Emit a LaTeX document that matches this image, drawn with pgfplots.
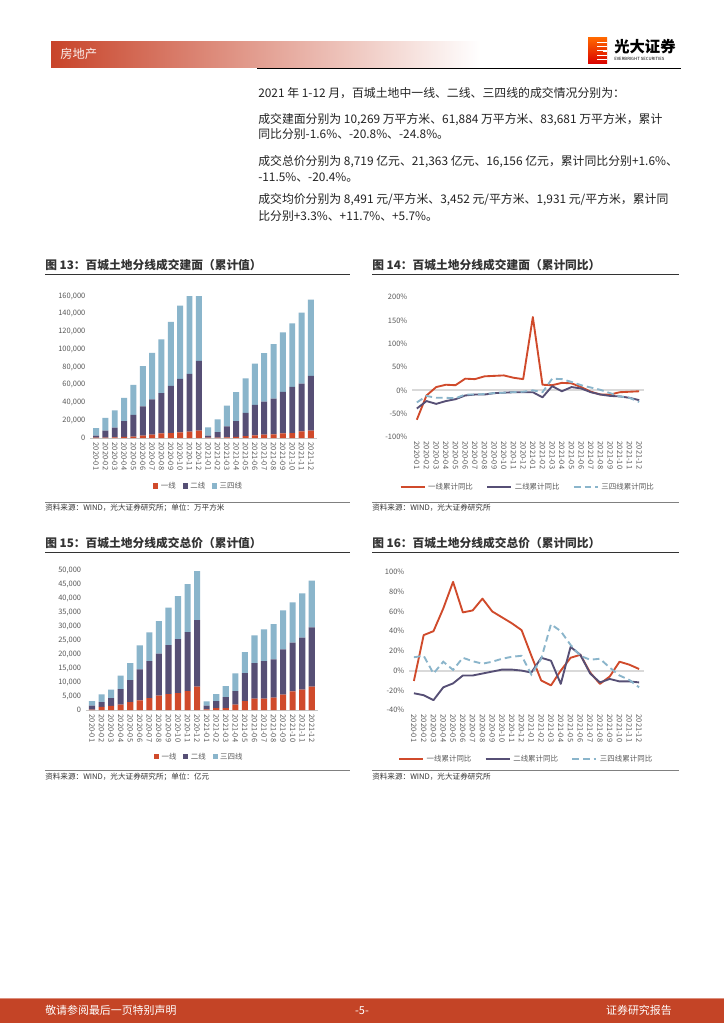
\documentclass[border=0pt]{standalone}
\usepackage{fontspec}
\setmainfont{Noto Sans CJK SC}
\usepackage{pgfplots}
\usepackage{pgfplotstable}
\pgfplotsset{compat=1.18}

\definecolor{cA}{HTML}{D04A2B}
\definecolor{cB}{HTML}{564F75}
\definecolor{cC}{HTML}{8AB5CB}
\definecolor{hdr}{HTML}{C8442A}
\definecolor{ftr}{HTML}{C44426}
\definecolor{tk}{HTML}{595959}
\definecolor{txt}{HTML}{222222}
\definecolor{ttl}{HTML}{333333}

% Fig 13: area (10k m2), stacked pieces
\pgfplotstableread{
i a b c
0 300 2300 8600
1 500 7700 14600
2 700 10900 19400
3 1200 17900 26100
4 1500 24700 33600
5 2600 32900 45600
6 3700 39700 52600
7 5200 45300 60500
8 5600 53100 72100
9 6400 60100 82600
10 7100 65100 107800
11 8200 78600 113200
12 300 2300 9400
13 500 6200 14200
14 600 12500 23500
15 1200 17900 32500
16 2000 26400 38900
17 3000 34400 46300
18 3700 37400 54600
19 4100 40400 61300
20 5200 46800 66900
21 5600 52000 71700
22 7500 53800 80000
23 8200 61700 86000
}\tabA

% Fig 14: area yoy %
\pgfplotstableread{
i a b c
0 -63 -39 -26
1 -11 -23 -12
2 7 -29 -16
3 12 -23 -16
4 11 -19 -17
5 25 -11 -9
6 24 -9 -9
7 30 -9 -8
8 31 -6 -6
9 32 -5 -5
10 27 -4 -4
11 24 -4 -3
12 157 -4 0
13 12 -15 -4
14 11 9 25
15 16 -2 24
16 15 7 18
17 7 4 11
18 -3 -4 6
19 -9 -9 1
20 -9 -12 -6
21 -4 -13 -13
22 -3 -16 -16
23 -2 -21 -25
}\tabB

% Fig 15: total price (100m yuan), stacked pieces
\pgfplotstableread{
i a b c
0 100 1450 1680
1 1080 1790 2750
2 1440 2860 3000
3 1910 5620 4770
4 2870 7890 6100
5 3470 11120 8610
6 4300 13280 10290
7 5140 15070 11720
8 5740 17580 13400
9 6100 19370 15430
10 6820 21170 17220
11 8370 23920 17580
12 200 1350 1560
13 720 2510 2510
14 720 3940 3950
15 1910 4910 6340
16 3230 10050 7530
17 4070 12790 9930
18 4070 13510 11360
19 4420 13760 12680
20 5500 16270 13990
21 6700 17460 14470
22 7300 18650 15910
23 8370 21290 16740
}\tabC

% Fig 16: total price yoy %
\pgfplotstableread{
i a b c
0 -10.5 -23 13.5
1 36 -25 15
2 40 -30 -3
3 63 -17 9
4 90 -13 0.7
5 59 -5 13
6 61 -5 9.5
7 73 -3 7
8 60 -1 9
9 54 1 12
10 48 1 14
11 41 0 15
12 15 -2 -4
13 -10 13 12
14 -15 10 47
15 0 -13.5 40
16 13 24 26
17 16 16 15
18 -2 -3 11
19 -13.5 -12 12
20 -6 -8.5 3
21 9 -11 -5
22 6 -11 -9.5
23 1.6 -12 -17
}\tabD

\pgfplotsset{
  base/.style={
    scale only axis, anchor=south west,
    axis line style={draw=none},
    major tick length=0pt,
    tick label style={font=\fontsize{5.6}{6.5}\selectfont, text=tk},
    /pgf/number format/assume math mode=true,
    /pgf/number format/fixed,
    /pgf/number format/1000 sep={,},
    scaled y ticks=false,
    xtick={0,...,23},
    xticklabels={2020-01,2020-02,2020-03,2020-04,2020-05,2020-06,2020-07,2020-08,2020-09,2020-10,2020-11,2020-12,2021-01,2021-02,2021-03,2021-04,2021-05,2021-06,2021-07,2021-08,2021-09,2021-10,2021-11,2021-12},
    x tick label style={rotate=-90, anchor=west},
    legend style={draw=none, fill=none, font=\fontsize{5.6}{6.5}\selectfont, text=tk, legend columns=3, anchor=center},
  },
}

\begin{document}
\begin{tikzpicture}
\begin{scope}[x=0.75pt, y=-0.75pt]
\useasboundingbox (0,0) rectangle (724,1024);
\fill[white] (0,0) rectangle (724,1024);
% header
\shade[left color=hdr, right color=white] (51,42) rectangle (480,68);
\node[anchor=base west, inner sep=0, text=white!92!hdr, font=\fontsize{9.2}{10}\selectfont] at (60,58.5) {房地产};
\draw[black, line width=1pt] (257,68.5) -- (681,68.5);
% logo
\shade[top color=orange!80!red, bottom color=red!85!black] (588,38) rectangle (607,64);
\foreach \yy in {42,46,50,55,59}{\fill[white] (597,\yy) rectangle (607,\yy+1.3);}
\fill[white] (603,50.5) rectangle (607,52.5);
\node[anchor=base west, inner sep=0, font=\bfseries\fontsize{11.5}{12}\selectfont] at (614,53) {光大证券};
\node[anchor=base west, inner sep=0, font=\fontsize{3.2}{4}\selectfont] at (614,61) {EVERBRIGHT SECURITIES};
% body text
\begin{scope}[every node/.style={anchor=base west, inner sep=0, text=txt, font=\fontsize{8.9}{10}\selectfont}]
\node at (258,97.7) {2021 年 1-12 月，百城土地中一线、二线、三四线的成交情况分别为：};
\node at (258,123.7) {成交建面分别为 10,269 万平方米、61,884 万平方米、83,681 万平方米，累计};
\node at (258,138.9) {同比分别-1.6\%、-20.8\%、-24.8\%。};
\node at (258,165.4) {成交总价分别为 8,719 亿元、21,363 亿元、16,156 亿元，累计同比分别+1.6\%、};
\node at (258,181.7) {-11.5\%、-20.4\%。};
\node at (258,203.7) {成交均价分别为 8,491 元/平方米、3,452 元/平方米、1,931 元/平方米，累计同};
\node at (258,220.4) {比分别+3.3\%、+11.7\%、+5.7\%。};
\end{scope}
% titles and sources
\begin{scope}[every node/.style={anchor=base west, inner sep=0, text=ttl}]
\node[font=\bfseries\fontsize{8.8}{10}\selectfont] at (45,269.5) {图 13：百城土地分线成交建面（累计值）};
\node[font=\bfseries\fontsize{8.8}{10}\selectfont] at (372,269.5) {图 14：百城土地分线成交建面（累计同比）};
\node[font=\bfseries\fontsize{8.8}{10}\selectfont] at (45,547.8) {图 15：百城土地分线成交总价（累计值）};
\node[font=\bfseries\fontsize{8.8}{10}\selectfont] at (372,547.8) {图 16：百城土地分线成交总价（累计同比）};
\node[font=\fontsize{5.7}{7}\selectfont] at (45,510.6) {资料来源：WIND，光大证券研究所；单位：万平方米};
\node[font=\fontsize{5.7}{7}\selectfont] at (372,510.6) {资料来源：WIND，光大证券研究所};
\node[font=\fontsize{5.7}{7}\selectfont] at (45,779.6) {资料来源：WIND，光大证券研究所；单位：亿元};
\node[font=\fontsize{5.7}{7}\selectfont] at (372,779.6) {资料来源：WIND，光大证券研究所};
\end{scope}
\draw[ttl, line width=0.8pt] (45,274.3) -- (350,274.3);
\draw[ttl, line width=0.8pt] (372,274.3) -- (679,274.3);
\draw[ttl, line width=0.8pt] (45,552.7) -- (350,552.7);
\draw[ttl, line width=0.8pt] (372,552.7) -- (679,552.7);
\draw[gray, line width=0.5pt] (45,502.3) -- (350,502.3);
\draw[gray, line width=0.5pt] (372,502.8) -- (679,502.8);
\draw[gray, line width=0.5pt] (45,770.7) -- (350,770.7);
\draw[gray, line width=0.5pt] (372,770.7) -- (679,770.7);
% footer
\fill[ftr] (0,998) rectangle (724,1023);
\draw[ftr!60!white, line width=0.6pt] (0,998) -- (724,998);
\begin{scope}[every node/.style={inner sep=0, text=white, font=\fontsize{8.2}{10}\selectfont}]
\node[anchor=base west] at (45,1014.5) {敬请参阅最后一页特别声明};
\node[anchor=base] at (362,1014.5) {-5-};
\node[anchor=base east] at (672,1014.5) {证券研究报告};
\end{scope}
\end{scope}

% ---------- Fig 13 ----------
\begin{axis}[base, at={(67.5pt,-328.5pt)}, width=170.25pt, height=106.5pt,
  ybar stacked, bar width=0.64,
  xmin=-0.65, xmax=23.65,
  ymin=0, ymax=160000, ytick={0,20000,...,160000},
  legend image code/.code={\fill[#1] (0pt,-1.9pt) rectangle (3.8pt,1.9pt);},
  legend style={at={(0.48,-0.338)}, /tikz/every even column/.append style={column sep=3pt}},
]
\addplot[fill=cA, draw=none] table[x=i,y=a]{\tabA};
\addplot[fill=cB, draw=none] table[x=i,y=b]{\tabA};
\addplot[fill=cC, draw=none] table[x=i,y=c]{\tabA};
\draw[gray!45, line width=0.6pt] (rel axis cs:0,0) -- (rel axis cs:1,0);
\legend{一线,二线,三四线}
\end{axis}

% ---------- Fig 14 ----------
\begin{axis}[base, at={(309pt,-327.75pt)}, width=174pt, height=105pt,
  xmin=-0.5, xmax=23.5,
  ymin=-100, ymax=200, ytick={-100,-50,...,200},
  yticklabel={\pgfmathprintnumber{\tick}\%},
  legend image code/.code={\draw[#1] (0pt,0pt) -- (18pt,0pt);},
  legend style={at={(0.5,-0.357)}, /tikz/every even column/.append style={column sep=8pt}},
]
\addplot[forget plot, gray!30, line width=1.5pt] coordinates {(-0.5,0) (23.5,0)};
\addplot[cA, line width=1.4pt, no markers, line join=round] table[x=i,y=a]{\tabB};
\addplot[cB, line width=1.4pt, no markers, line join=round] table[x=i,y=b]{\tabB};
\addplot[cC, line width=1.4pt, no markers, dash pattern=on 5pt off 3pt] table[x=i,y=c]{\tabB};
\legend{一线累计同比,二线累计同比,三四线累计同比}
\end{axis}

% ---------- Fig 15 ----------
\begin{axis}[base, at={(64.35pt,-532.5pt)}, width=174.15pt, height=104.5pt,
  ybar stacked, bar width=0.64,
  xmin=-0.65, xmax=23.65,
  ymin=0, ymax=50000, ytick={0,5000,...,50000},
  legend image code/.code={\fill[#1] (0pt,-1.9pt) rectangle (3.8pt,1.9pt);},
  legend style={at={(0.49,-0.337)}, /tikz/every even column/.append style={column sep=3pt}},
]
\addplot[fill=cA, draw=none] table[x=i,y=a]{\tabC};
\addplot[fill=cB, draw=none] table[x=i,y=b]{\tabC};
\addplot[fill=cC, draw=none] table[x=i,y=c]{\tabC};
\draw[gray!45, line width=0.6pt] (rel axis cs:0,0) -- (rel axis cs:1,0);
\legend{一线,二线,三四线}
\end{axis}

% ---------- Fig 16 ----------
\begin{axis}[base, at={(306.75pt,-532.5pt)}, width=176.25pt, height=103.5pt,
  xmin=-0.5, xmax=23.5,
  ymin=-40, ymax=100, ytick={-40,-20,...,100},
  yticklabel={\pgfmathprintnumber{\tick}\%},
  legend image code/.code={\draw[#1] (0pt,0pt) -- (18pt,0pt);},
  legend style={at={(0.5,-0.355)}, /tikz/every even column/.append style={column sep=8pt}},
]
\addplot[forget plot, gray!30, line width=1.5pt] coordinates {(-0.5,0) (23.5,0)};
\addplot[cA, line width=1.4pt, no markers, line join=round] table[x=i,y=a]{\tabD};
\addplot[cB, line width=1.4pt, no markers, line join=round] table[x=i,y=b]{\tabD};
\addplot[cC, line width=1.4pt, no markers, dash pattern=on 5pt off 3pt] table[x=i,y=c]{\tabD};
\legend{一线累计同比,二线累计同比,三四线累计同比}
\end{axis}
\end{tikzpicture}
\end{document}
